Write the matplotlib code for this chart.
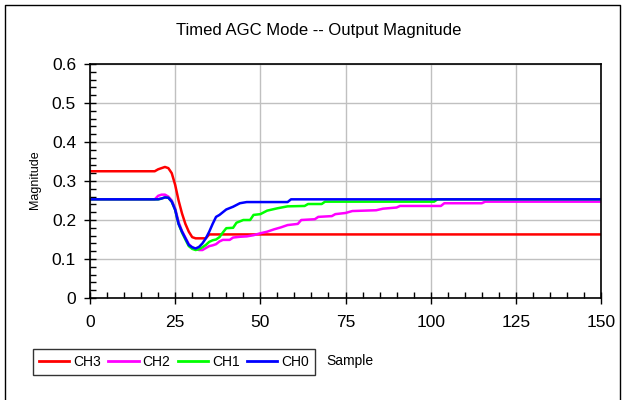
import matplotlib
matplotlib.use("Agg")
import matplotlib.pyplot as plt
from matplotlib.ticker import MultipleLocator
from matplotlib.lines import Line2D

plt.rcParams['font.family'] = ['Liberation Sans', 'DejaVu Sans']

# data (sample, magnitude breakpoints)
ch3_x = [0, 19, 20, 22, 23, 24, 25, 26, 27, 28, 29, 30, 31, 34, 35, 150]
ch3_y = [0.325, 0.325, 0.330, 0.336, 0.333, 0.320, 0.290, 0.250, 0.217, 0.190,
         0.170, 0.156, 0.153, 0.153, 0.163, 0.163]

ch2_x = [0, 19, 20, 21, 22, 23, 24, 25, 26, 27, 28, 29, 30, 31, 32, 33, 34, 35,
         36, 37, 38, 39, 41, 42, 44, 46, 48, 50, 52, 54, 56, 58, 61, 62, 66, 67,
         71, 72, 75, 77, 84, 86, 90, 91, 103, 104, 115, 116, 150]
ch2_y = [0.253, 0.253, 0.262, 0.265, 0.265, 0.260, 0.250, 0.230, 0.195, 0.172,
         0.155, 0.138, 0.130, 0.126, 0.123, 0.123, 0.128, 0.133, 0.135, 0.138,
         0.145, 0.149, 0.149, 0.155, 0.157, 0.158, 0.161, 0.166, 0.170, 0.176,
         0.181, 0.187, 0.190, 0.200, 0.202, 0.208, 0.210, 0.215, 0.218, 0.223,
         0.225, 0.229, 0.232, 0.236, 0.236, 0.243, 0.243, 0.247, 0.247]

ch1_x = [0, 20, 21, 22, 23, 24, 25, 26, 27, 28, 29, 30, 31, 32, 33, 34, 35, 36,
         37, 38, 39, 40, 42, 43, 45, 47, 48, 50, 52, 55, 58, 63, 64, 68, 69, 101,
         102, 150]
ch1_y = [0.253, 0.253, 0.255, 0.258, 0.257, 0.247, 0.226, 0.190, 0.168, 0.150,
         0.133, 0.126, 0.123, 0.125, 0.130, 0.136, 0.144, 0.148, 0.150, 0.156,
         0.168, 0.179, 0.180, 0.193, 0.200, 0.200, 0.213, 0.215, 0.224, 0.230,
         0.235, 0.236, 0.241, 0.241, 0.247, 0.247, 0.253, 0.253]

ch0_x = [0, 20, 21, 22, 23, 24, 25, 26, 27, 28, 29, 30, 31, 32, 33, 34, 35, 36,
         37, 38, 40, 42, 44, 46, 58, 59, 150]
ch0_y = [0.253, 0.253, 0.255, 0.258, 0.257, 0.247, 0.226, 0.190, 0.170, 0.153,
         0.136, 0.130, 0.127, 0.131, 0.140, 0.153, 0.170, 0.190, 0.208, 0.213,
         0.227, 0.234, 0.243, 0.246, 0.246, 0.253, 0.253]

labels = ['CH3', 'CH2', 'CH1', 'CH0']
colors = ['#ff0000', '#ff00ff', '#00ff00', '#0000ff']

fig = plt.figure(figsize=(6.27, 4.0), dpi=100)
ax = fig.add_axes([90 / 627, 1 - 298 / 400, 511 / 627, 234 / 400])

series = [(ch3_x, ch3_y), (ch2_x, ch2_y), (ch1_x, ch1_y), (ch0_x, ch0_y)]
for (xs, ys), lab, col in zip(series, labels, colors):
    ax.plot(xs, ys, color=col, lw=1.8, label=lab, solid_joinstyle='round')

ax.set_xlim(0, 150)
ax.set_ylim(0, 0.6)
ax.xaxis.set_major_locator(MultipleLocator(25))
ax.xaxis.set_minor_locator(MultipleLocator(5))
ax.yaxis.set_major_locator(MultipleLocator(0.1))
ax.yaxis.set_minor_locator(MultipleLocator(0.02))
ax.yaxis.set_major_formatter(plt.FuncFormatter(lambda v, p: '0' if abs(v) < 1e-9 else f'{v:.1f}'))

ax.tick_params(which='major', direction='inout', length=8, width=1,
               labelsize=12.5, color='black')
ax.tick_params(axis='y', which='major', pad=6)
ax.tick_params(axis='x', which='major', pad=8)
ax.tick_params(which='minor', direction='in', length=4, width=1, color='black')

ax.grid(True, which='major', color='#c0c0c0', lw=1)
ax.set_axisbelow(True)
for sp in ax.spines.values():
    sp.set_color('black')
    sp.set_linewidth(1.2)

fig.text(319 / 627, 1 - 30 / 400, 'Timed AGC Mode -- Output Magnitude',
         fontsize=12, ha='center', va='center')
fig.text(35 / 627, 1 - 180 / 400, 'Magnitude', rotation=90, fontsize=9,
         ha='center', va='center')
fig.text(326 / 627, 1 - 361 / 400, 'Sample', fontsize=10, ha='left', va='center')

handles = [Line2D([], [], color=c, lw=2) for c in colors]
leg = fig.legend(handles, labels, ncol=4, loc='center left',
                 bbox_to_anchor=(33 / 627, 1 - 362 / 400), fontsize=10,
                 frameon=True, fancybox=False, handlelength=2.2,
                 handletextpad=0.3, columnspacing=0.5, borderpad=0.4,
                 borderaxespad=0)
leg.get_frame().set_edgecolor('black')
leg.get_frame().set_linewidth(1)

# outer chart border
bx0, bx1, by1 = 5 / 627, 620 / 627, 1 - 4.5 / 400
fig.add_artist(Line2D([bx0, bx0, bx1, bx1], [0, by1, by1, 0], color='black',
                      lw=1, transform=fig.transFigure))

fig.savefig('out.png', dpi=100)
